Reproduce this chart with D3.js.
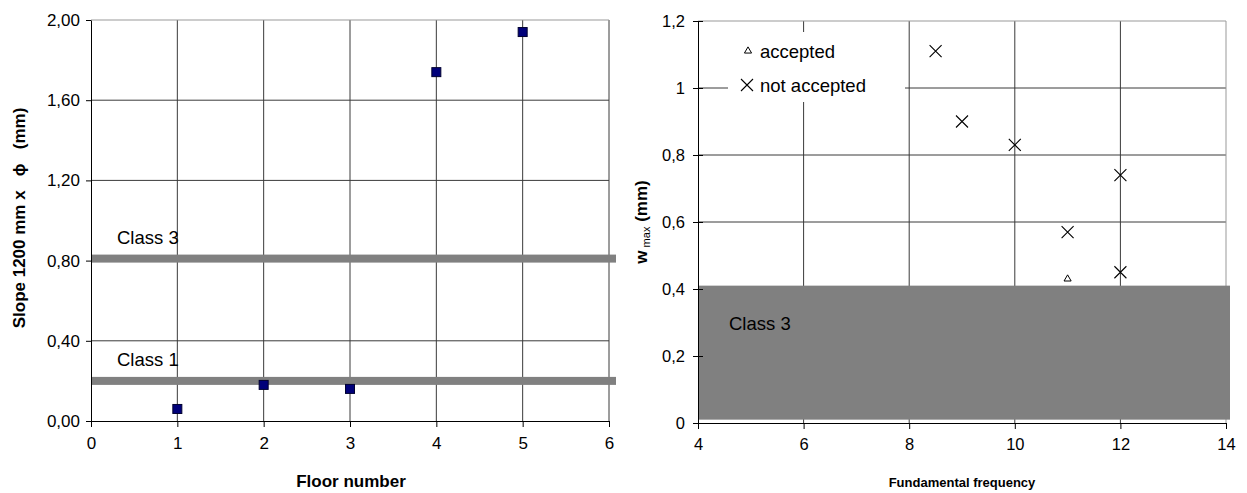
<!DOCTYPE html>
<html>
<head>
<meta charset="utf-8">
<script src="https://cdn.jsdelivr.net/npm/d3@7"></script>
<style>
body { margin: 0; background: #fff; }
text { font-family: "Liberation Sans", Arial, sans-serif; fill: #000; }
</style>
</head>
<body>
<svg id="chart" width="1247" height="493"></svg>
<script>
// left panel: slope per floor
var floors = [1, 2, 3, 4, 5];
var slopes = [0.06, 0.18, 0.16, 1.74, 1.94];
var classLabels = ["Class 3", "Class 1"];
var classValues = [0.81, 0.2];
var leftXTicks = [0, 1, 2, 3, 4, 5, 6];
var leftYTicks = [0, 0.4, 0.8, 1.2, 1.6, 2.0];

// right panel: w max vs fundamental frequency
var acceptedFreq = [11];
var acceptedW = [0.43];
var notAcceptedFreq = [8.5, 9, 10, 12, 11, 12];
var notAcceptedW = [1.11, 0.9, 0.83, 0.74, 0.57, 0.45];
var bandLabel = "Class 3";
var bandRange = [0.01, 0.41];
var rightXTicks = [4, 6, 8, 10, 12, 14];
var rightYTicks = [0, 0.2, 0.4, 0.6, 0.8, 1, 1.2];
var legendLabels = ["accepted", "not accepted"];

var svg = d3.select("#chart");
var gridColor = "#3a3a3a";
var FONT = "'Liberation Sans', Arial, sans-serif";
var fmtComma = function(f){ return function(d){ return f(d).replace(".", ","); }; };

// ---------- left ----------
var lx = d3.scaleLinear().domain([0, 6]).range([91, 609]);
var ly = d3.scaleLinear().domain([0, 2]).range([421, 20]);
var L = svg.append("g");

L.selectAll("line.hg").data(leftYTicks.slice(1, -1)).enter().append("line")
    .attr("x1", lx(0)).attr("x2", lx(6)).attr("y1", ly).attr("y2", ly)
    .attr("stroke", gridColor);
L.selectAll("line.vg").data(leftXTicks.slice(1)).enter().append("line")
    .attr("x1", lx).attr("x2", lx).attr("y1", ly(0)).attr("y2", ly(2))
    .attr("stroke", gridColor);
L.append("line").attr("x1", lx(0)).attr("x2", lx(6)).attr("y1", ly(2)).attr("y2", ly(2))
    .attr("stroke", "#999");

// class lines
L.selectAll("rect.cls").data(classValues).enter().append("rect")
    .attr("x", lx(0) + 1).attr("width", lx(6) - lx(0) + 6)
    .attr("y", function(d){ return ly(d) - 4; }).attr("height", 8)
    .attr("fill", "#808080");
L.selectAll("text.cls").data(classValues).enter().append("text")
    .attr("x", 117).attr("y", function(d){ return ly(d) - 15; })
    .attr("font-size", 18.5).text(function(d, i){ return classLabels[i]; });

var lxAxis = L.append("g").attr("transform", "translate(0," + ly(0) + ")")
    .call(d3.axisBottom(lx).tickValues(leftXTicks).tickFormat(d3.format("d"))
        .tickSize(6).tickPadding(10).tickSizeOuter(0));
var lyAxis = L.append("g").attr("transform", "translate(" + lx(0) + ",0)")
    .call(d3.axisLeft(ly).tickValues(leftYTicks).tickFormat(fmtComma(d3.format(".2f")))
        .tickSize(5).tickPadding(6).tickSizeOuter(0));
[lxAxis, lyAxis].forEach(function(a){
    a.selectAll("text").attr("font-size", 17).attr("font-family", FONT);
    a.select(".domain").attr("stroke", "#000");
});

L.selectAll("rect.pt").data(floors).enter().append("rect")
    .attr("x", function(d){ return lx(d) - 4.5; })
    .attr("y", function(d, i){ return ly(slopes[i]) - 4.5; })
    .attr("width", 9).attr("height", 9)
    .attr("fill", "#00007a").attr("stroke", "#000030").attr("stroke-width", 1);

L.append("text").attr("x", 351).attr("y", 487).attr("text-anchor", "middle")
    .attr("font-size", 17).attr("font-weight", "bold").text("Floor number");
L.append("text").attr("transform", "translate(25,218) rotate(-90)").attr("text-anchor", "middle")
    .style("white-space", "pre")
    .attr("font-size", 17).attr("font-weight", "bold").text("Slope 1200 mm x   \u03d5   (mm)");

// ---------- right ----------
var rx = d3.scaleLinear().domain([4, 14]).range([698, 1226]);
var ry = d3.scaleLinear().domain([0, 1.2]).range([423, 21]);
var R = svg.append("g");

R.selectAll("line.hg").data(rightYTicks.slice(1, -1)).enter().append("line")
    .attr("x1", rx(4)).attr("x2", rx(14)).attr("y1", ry).attr("y2", ry)
    .attr("stroke", gridColor);
R.selectAll("line.vg").data(rightXTicks.slice(1)).enter().append("line")
    .attr("x1", rx).attr("x2", rx).attr("y1", ry(0)).attr("y2", ry(1.2))
    .attr("stroke", function(d){ return d === 14 ? "#999" : gridColor; });
R.append("line").attr("x1", rx(4)).attr("x2", rx(14)).attr("y1", ry(1.2)).attr("y2", ry(1.2))
    .attr("stroke", "#999");

// legend box covers the grid
R.append("rect").attr("x", rx(4) + 30).attr("y", 32).attr("width", 177).attr("height", 70)
    .attr("fill", "#fff");

R.append("rect").attr("x", rx(4)).attr("width", rx(14) - rx(4) + 4)
    .attr("y", ry(bandRange[1])).attr("height", ry(bandRange[0]) - ry(bandRange[1]))
    .attr("fill", "#808080");
R.append("text").attr("x", 729).attr("y", 330).attr("font-size", 18.5).attr("fill", "#1a1a1a")
    .text(bandLabel);

var rxAxis = R.append("g").attr("transform", "translate(0," + ry(0) + ")")
    .call(d3.axisBottom(rx).tickValues(rightXTicks).tickSize(6).tickPadding(9).tickSizeOuter(0));
var ryAxis = R.append("g").attr("transform", "translate(" + rx(4) + ",0)")
    .call(d3.axisLeft(ry).tickValues(rightYTicks).tickFormat(fmtComma(d3.format("~g")))
        .tickSize(5).tickPadding(8).tickSizeOuter(0));
ryAxis.selectAll(".tick line").attr("x2", 5).attr("x1", -5);
[rxAxis, ryAxis].forEach(function(a){
    a.selectAll("text").attr("font-size", 16.5).attr("font-family", FONT);
    a.select(".domain").attr("stroke", "#000");
});

var tri = d3.symbol().type(d3.symbolTriangle).size(22);
R.selectAll("path.acc").data(acceptedFreq).enter().append("path")
    .attr("d", tri)
    .attr("transform", function(d, i){ return "translate(" + rx(d) + "," + ry(acceptedW[i]) + ")"; })
    .attr("fill", "none").attr("stroke", "#000").attr("stroke-width", 1);
function cross(g, cx, cy, s){
    g.append("path").attr("d", "M" + (cx - s) + "," + (cy - s) + "L" + (cx + s) + "," + (cy + s)
        + "M" + (cx - s) + "," + (cy + s) + "L" + (cx + s) + "," + (cy - s))
        .attr("stroke", "#000").attr("stroke-width", 1.1).attr("fill", "none");
}
notAcceptedFreq.forEach(function(d, i){ cross(R, rx(d), ry(notAcceptedW[i]), 6); });

// legend
R.append("path").attr("d", tri).attr("transform", "translate(748,51)")
    .attr("fill", "none").attr("stroke", "#000");
cross(R, 747, 85, 6);
R.selectAll("text.leg").data(legendLabels).enter().append("text")
    .attr("x", 760).attr("y", function(d, i){ return 58 + i * 34; })
    .attr("font-size", 18.5).text(function(d){ return d; });

R.append("text").attr("x", 962).attr("y", 487).attr("text-anchor", "middle")
    .attr("font-size", 13).attr("font-weight", "bold").text("Fundamental frequency");
var yl = R.append("text").attr("transform", "translate(647,222) rotate(-90)").attr("text-anchor", "middle")
    .attr("font-size", 17).attr("font-weight", "bold");
yl.append("tspan").text("w");
yl.append("tspan").attr("font-size", 11).attr("font-weight", "normal").attr("dy", 3).text(" max");
yl.append("tspan").attr("dy", -3).text(" (mm)");
</script>
</body>
</html>
